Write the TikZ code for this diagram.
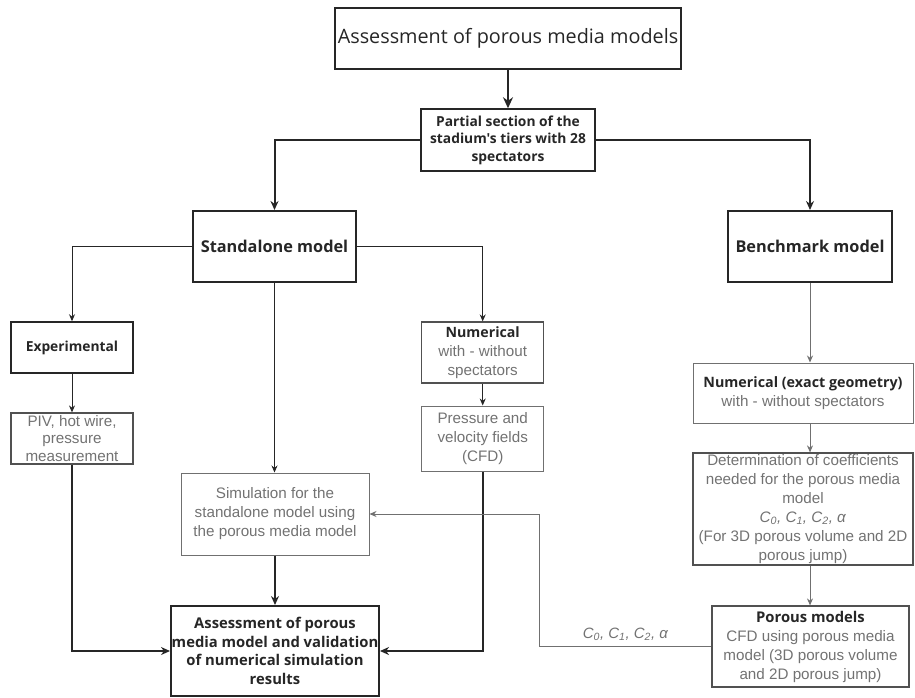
\documentclass[tikz,border=0pt]{standalone}
\usepackage{fontspec}
\setmainfont{Liberation Sans}
\newfontfamily\osans{Open Sans}
\usetikzlibrary{arrows.meta}
\definecolor{dk}{HTML}{262626}
\definecolor{gl}{HTML}{707070}
\definecolor{gt}{HTML}{727272}
\begin{document}
\begin{tikzpicture}[x=1pt,y=-1pt,
  darkbox/.style={draw=dk,line width=1.6pt,inner sep=0pt,align=center,text=dk,
    font=\osans\bfseries\fontsize{13.8}{17.5}\selectfont},
  midbox/.style={draw=dk!80,line width=1.2pt,inner sep=0pt,align=center,text=gt,
    font=\fontsize{15.2}{19}\selectfont},
  lightbox/.style={draw=gl,line width=1pt,inner sep=0pt,align=center,text=gt,
    font=\fontsize{15.2}{19}\selectfont},
  thinarrow/.style={draw=dk,line width=1pt,-{Stealth[length=7pt,width=6pt]}},
  grayarrow/.style={draw=gl,line width=1pt,-{Stealth[length=7pt,width=6pt]}},
  thickarrow/.style={draw=dk,line width=2pt,-{Stealth[length=9pt,width=8pt]}},
]
\useasboundingbox (0,0) rectangle (915,697);

% nodes
\node[darkbox,line width=1.5pt,minimum width=346pt,minimum height=61pt,
  font=\osans\fontsize{19.8}{23}\selectfont] (title) at (508,38.5)
  {Assessment of porous media models};
\node[darkbox,line width=1.5pt,minimum width=174pt,minimum height=62pt] (partial) at (508,140)
  {Partial section of the\\stadium's tiers with 28\\spectators};
\node[darkbox,line width=2pt,minimum width=163pt,minimum height=71pt,
  font=\osans\bfseries\fontsize{16.3}{18}\selectfont] (stand) at (274.5,246.5)
  {Standalone model};
\node[darkbox,line width=2pt,minimum width=164pt,minimum height=71pt,
  font=\osans\bfseries\fontsize{16.3}{18}\selectfont] (bench) at (810,246.5)
  {Benchmark model};
\node[darkbox,line width=1.5pt,minimum width=122pt,minimum height=51pt] (exp) at (72,347.5)
  {Experimental};
\node[midbox,minimum width=122pt,minimum height=51pt,
  font=\fontsize{15.2}{17.5}\selectfont] (piv) at (72,438.5)
  {PIV, hot wire,\\pressure\\measurement};
\node[midbox,minimum width=122pt,minimum height=61pt] (num) at (482.7,352.5)
  {{\osans\bfseries\color{dk}\fontsize{14.2}{17}\selectfont Numerical}\\with - without\\spectators};
\node[lightbox,minimum width=122pt,minimum height=65pt] (press) at (482.7,438.5)
  {Pressure and\\velocity fields\\(CFD)};
\node[lightbox,minimum width=188pt,minimum height=82pt] (sim) at (275,514)
  {Simulation for the\\standalone model using\\the porous media model};
\node[darkbox,line width=2pt,minimum width=208pt,minimum height=90pt,
  font=\osans\bfseries\fontsize{14.8}{18.5}\selectfont] (assess) at (275,651)
  {Assessment of porous\\media model and validation\\of numerical simulation\\results};
\node[lightbox,minimum width=220pt,minimum height=60pt] (numex) at (803,393)
  {{\osans\bfseries\color{dk}\fontsize{14.3}{17}\selectfont Numerical (exact geometry)}\\with - without spectators};
\node[midbox,minimum width=220pt,minimum height=112pt] (det) at (803,509)
  {Determination of coefficients\\needed for the porous media\\model\\
   \textit{C\textsubscript{0}, C\textsubscript{1}, C\textsubscript{2}, α}\\
   (For 3D porous volume and 2D\\porous jump)};
\node[midbox,minimum width=197pt,minimum height=81pt] (por) at (810.5,646.5)
  {{\osans\bfseries\color{dk}\fontsize{14.8}{17}\selectfont Porous models}\\CFD using porous media\\model (3D porous volume\\and 2D porous jump)};

% connectors
\draw[thickarrow,line width=2.5pt,-{Stealth[length=11pt,width=10pt]}] (title) -- (partial);
\draw[thickarrow] (partial.west) -| (stand.north);
\draw[thickarrow] (partial.east) -| (bench.north);
\draw[thinarrow] (stand.west) -| (exp.north);
\draw[thinarrow] (stand.east) -| (num.north);
\draw[thinarrow] (stand.south) -- (stand.south |- sim.north);
\draw[thinarrow] (exp) -- (piv);
\draw[thickarrow] (piv.south) |- (assess.west);
\draw[thinarrow] (num) -- (press);
\draw[thickarrow] (press.south) |- (assess.east);
\draw[thickarrow] (sim.south) -- (sim.south |- assess.north);
\draw[grayarrow] (bench.south) -- (bench.south |- numex.north);
\draw[grayarrow] (numex.south -| bench.south) -- (det.north -| bench.south);
\draw[grayarrow] (det.south -| bench.south) -- (por.north -| bench.south);
\draw[grayarrow] (por.west) -- node[above=2pt,text=gt,font=\fontsize{15}{17}\selectfont\itshape]
  {C\textsubscript{0}, C\textsubscript{1}, C\textsubscript{2}, α} ++(-172,0) |- (sim.east);
\end{tikzpicture}
\end{document}
